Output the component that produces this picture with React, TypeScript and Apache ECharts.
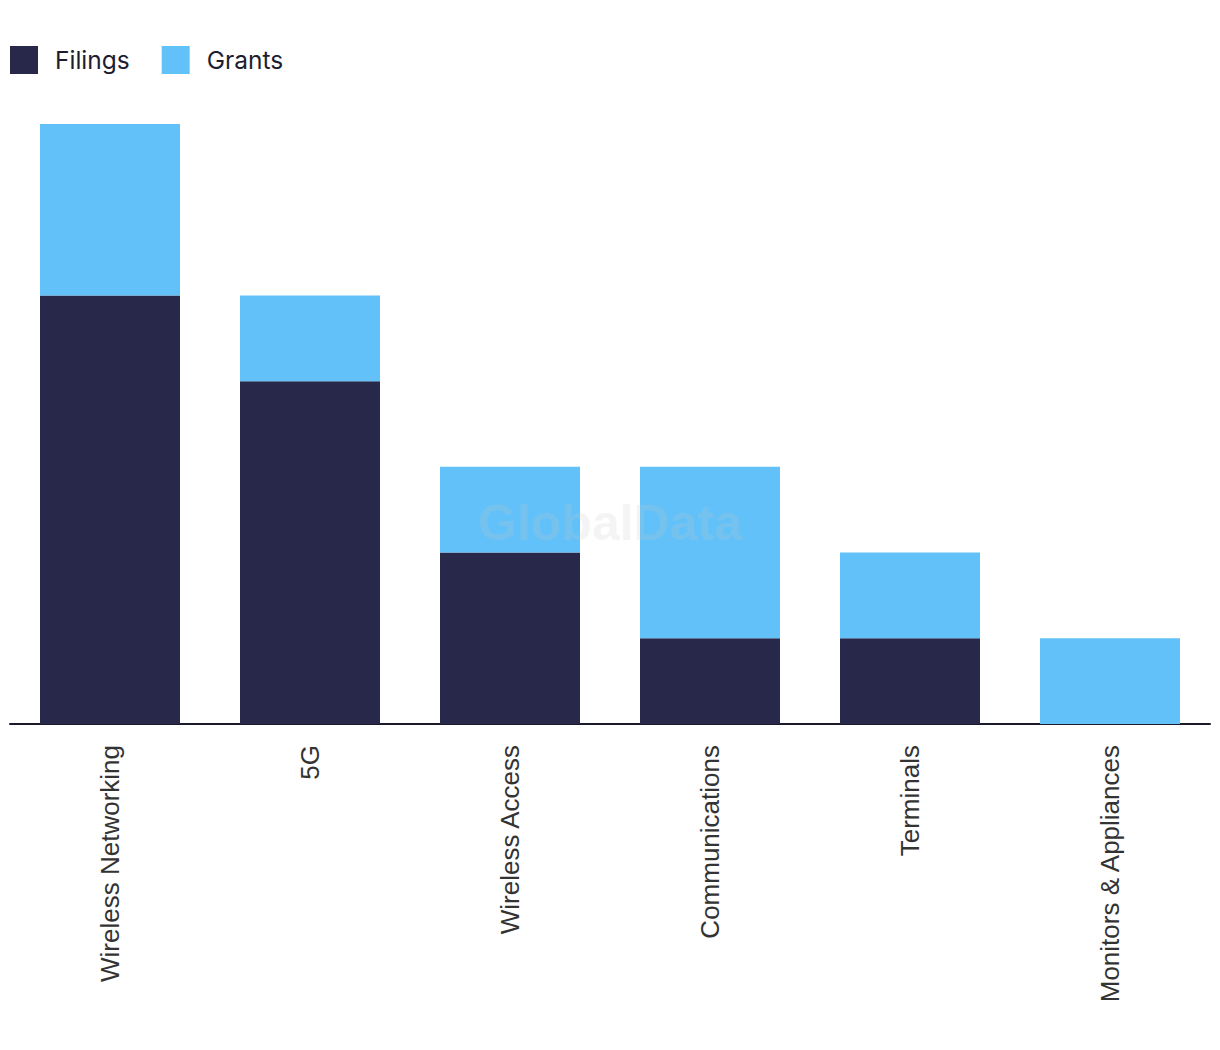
import React, { useEffect, useRef } from "react";
import * as echarts from "echarts";

const categories = [
  "Wireless Networking",
  "5G",
  "Wireless Access",
  "Communications",
  "Terminals",
  "Monitors & Appliances",
];
const filings = [5, 4, 2, 1, 1, 0];
const grants = [2, 1, 1, 2, 1, 1];

export default function App() {
  const ref = useRef<HTMLDivElement>(null);
  useEffect(() => {
    document.body.style.margin = "0";
    const chart = echarts.init(ref.current!, null, { renderer: "svg" });
    chart.setOption({
      animation: false,
      backgroundColor: "#ffffff",
      legend: {
        left: 10,
        top: 46,
        padding: 0,
        itemWidth: 28,
        itemHeight: 28,
        itemGap: 32,
        icon: "rect",
        textStyle: {
          fontFamily: "Inter",
          fontSize: 24.5,
          color: "#1d1d2f",
          padding: [0, 0, 0, 12],
        },
        data: ["Filings", "Grants"],
      },
      grid: { left: 10, right: 10, top: 124, bottom: 326, containLabel: false },
      xAxis: {
        type: "category",
        data: categories,
        axisLine: { lineStyle: { color: "#1a1a2a", width: 2 } },
        axisTick: { show: false },
        axisLabel: {
          rotate: 90,
          margin: 21,
          fontFamily: "Liberation Sans",
          fontSize: 26,
          color: "#333333",
          interval: 0,
        },
      },
      yAxis: {
        type: "value",
        min: 0,
        max: 7,
        interval: 1,
        show: false,
        splitLine: { show: false },
      },
      series: [
        {
          name: "Filings",
          type: "bar",
          stack: "total",
          data: filings,
          barWidth: 140,
          itemStyle: { color: "#27284a" },
        },
        {
          name: "Grants",
          type: "bar",
          stack: "total",
          data: grants,
          barWidth: 140,
          itemStyle: { color: "#62c1f9" },
        },
      ],
      graphic: [
        {
          type: "text",
          left: "center",
          top: 498,
          z: 100,
          style: {
            text: "GlobalData",
            fontFamily: "Liberation Sans",
            fontWeight: "bold",
            fontSize: 50,
            fill: "rgba(200,200,200,0.2)",
          },
        },
      ],
    });
    return () => chart.dispose();
  }, []);
  return <div ref={ref} style={{ width: 1220, height: 1050 }} />;
}
